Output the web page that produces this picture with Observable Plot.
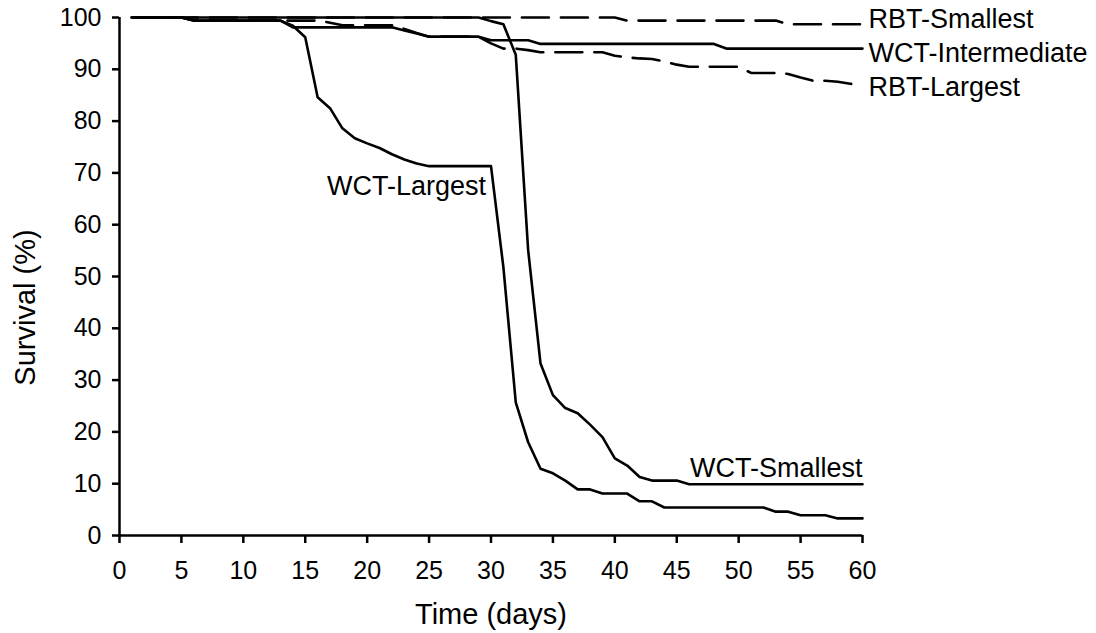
<!DOCTYPE html>
<html><head><meta charset="utf-8">
<script src="https://cdn.jsdelivr.net/npm/d3@7"></script>
<script src="https://cdn.jsdelivr.net/npm/@observablehq/plot@0.6"></script>
<style>body{margin:0;background:#fff;}</style>
</head><body><div id="chart"></div>
<script>
// Vertices of each survival curve (day, survival %)
const wctSmallestDays = [1,29,30,31,32,33,34,35,36,37,38,39,40,41,42,43,45,46,60];
const wctSmallestVals = [100,100,99.3,98.7,92.8,55.1,33.2,27.1,24.6,23.6,21.4,19,14.9,13.5,11.3,10.6,10.6,9.9,9.9];

const wctLargestDays = [1,5,6,13,14,15,16,17,18,19,20,21,22,23,24,25,30,31,32,33,34,35,36,37,38,39,41,42,43,44,52,53,54,55,57,58,60];
const wctLargestVals = [100,100,99.4,99.4,98.4,96.2,84.6,82.5,78.6,76.7,75.7,74.8,73.6,72.6,71.8,71.3,71.3,51.8,25.7,18,12.9,12,10.6,8.9,8.9,8.1,8.1,6.6,6.6,5.4,5.4,4.6,4.6,3.9,3.9,3.3,3.3];

const wctIntermediateDays = [1,5,6,13,14,22,23,24,25,29,30,33,34,48,49,60];
const wctIntermediateVals = [100,100,99.4,99.4,98.1,98.1,97.5,96.9,96.3,96.3,95.6,95.6,94.9,94.9,94,94];

const rbtLargestDays = [1,5,6,16,17,18,22,23,24,25,29,30,31,32,33,34,39,40,41,42,43,44,45,46,50,51,53,54,55,56,57,58,59,60];
const rbtLargestVals = [100,100,99.4,99.4,99,98.5,98.5,97.8,97,96.3,96.3,95,94,94,93.7,93.3,93.3,92.6,92.3,92.1,92,91.5,90.9,90.5,90.5,89.3,89.3,89.1,88.4,87.8,87.8,87.6,87.2,87];

const rbtSmallestDays = [1,40,41,53,54,60];
const rbtSmallestVals = [100,100,99.4,99.4,98.7,98.7];

const seriesNames = ["WCT-Smallest","WCT-Largest","WCT-Intermediate","RBT-Largest","RBT-Smallest"];
const seriesDashed = [false,false,false,true,true];
const seriesDays = [wctSmallestDays,wctLargestDays,wctIntermediateDays,rbtLargestDays,rbtSmallestDays];
const seriesVals = [wctSmallestVals,wctLargestVals,wctIntermediateVals,rbtLargestVals,rbtSmallestVals];

const xTicks = [0,5,10,15,20,25,30,35,40,45,50,55,60];
const yTicks = [0,10,20,30,40,50,60,70,80,90,100];

// Label anchors (data units)
const labelNames = ["RBT-Smallest","WCT-Intermediate","RBT-Largest","WCT-Largest","WCT-Smallest"];
const labelDays  = [60,60,60,29.6,60];
const labelVals  = [98.7,94,87,67.4,9.9];

const rows = seriesNames.flatMap((name, k) => seriesDays[k].map((d, i) => ({series: name, dashed: seriesDashed[k], day: d, value: seriesVals[k][i]})));
const labels = labelNames.map((n, i) => ({name: n, day: labelDays[i], value: labelVals[i]}));

const font = "'Liberation Sans', Arial, sans-serif";
const labelSize = 27;

const chart = Plot.plot({
  width: 1096,
  height: 633,
  marginLeft: 119,
  marginRight: 234,
  marginTop: 17,
  marginBottom: 98,
  x: {domain: [0, 60]},
  y: {domain: [0, 100]},
  style: {fontFamily: font, color: "#000", background: "#fff", overflow: "visible"},
  marks: [
    Plot.axisX({ticks: xTicks, tickSize: 8, tickPadding: 18, fontSize: 25, label: null, strokeWidth: 2.5}),
    Plot.axisY({ticks: yTicks, tickSize: 7, tickPadding: 11, fontSize: 25, label: null, strokeWidth: 2.5}),
    Plot.ruleX([0], {strokeWidth: 2.5}),
    Plot.ruleY([0], {strokeWidth: 2.5}),
    Plot.line(rows.filter(r => !r.dashed), {x: "day", y: "value", z: "series", stroke: "#000", strokeWidth: 2.6, strokeLinejoin: "round"}),
    Plot.line(rows.filter(r => r.dashed), {x: "day", y: "value", z: "series", stroke: "#000", strokeWidth: 2.6, strokeDasharray: "27,12"}),
    Plot.text([labels[0]], {x: "day", y: "value", text: "name", textAnchor: "start", dx: 6, dy: -5, fontSize: labelSize}),
    Plot.text([labels[1]], {x: "day", y: "value", text: "name", textAnchor: "start", dx: 6, dy: 5, fontSize: labelSize}),
    Plot.text([labels[2]], {x: "day", y: "value", text: "name", textAnchor: "start", dx: 6, dy: 3, fontSize: labelSize}),
    Plot.text([labels[3]], {x: "day", y: "value", text: "name", textAnchor: "end", fontSize: labelSize}),
    Plot.text([labels[4]], {x: "day", y: "value", text: "name", textAnchor: "end", dy: -16, fontSize: labelSize}),
    Plot.text(["Survival (%)"], {frameAnchor: "left", textAnchor: "middle", lineAnchor: "middle", dx: -94, dy: 31, rotate: -90, fontSize: 29}),
    Plot.text(["Time (days)"], {frameAnchor: "bottom", dy: 88, fontSize: 29})
  ]
});
document.getElementById("chart").append(chart);
</script>
</body></html>
